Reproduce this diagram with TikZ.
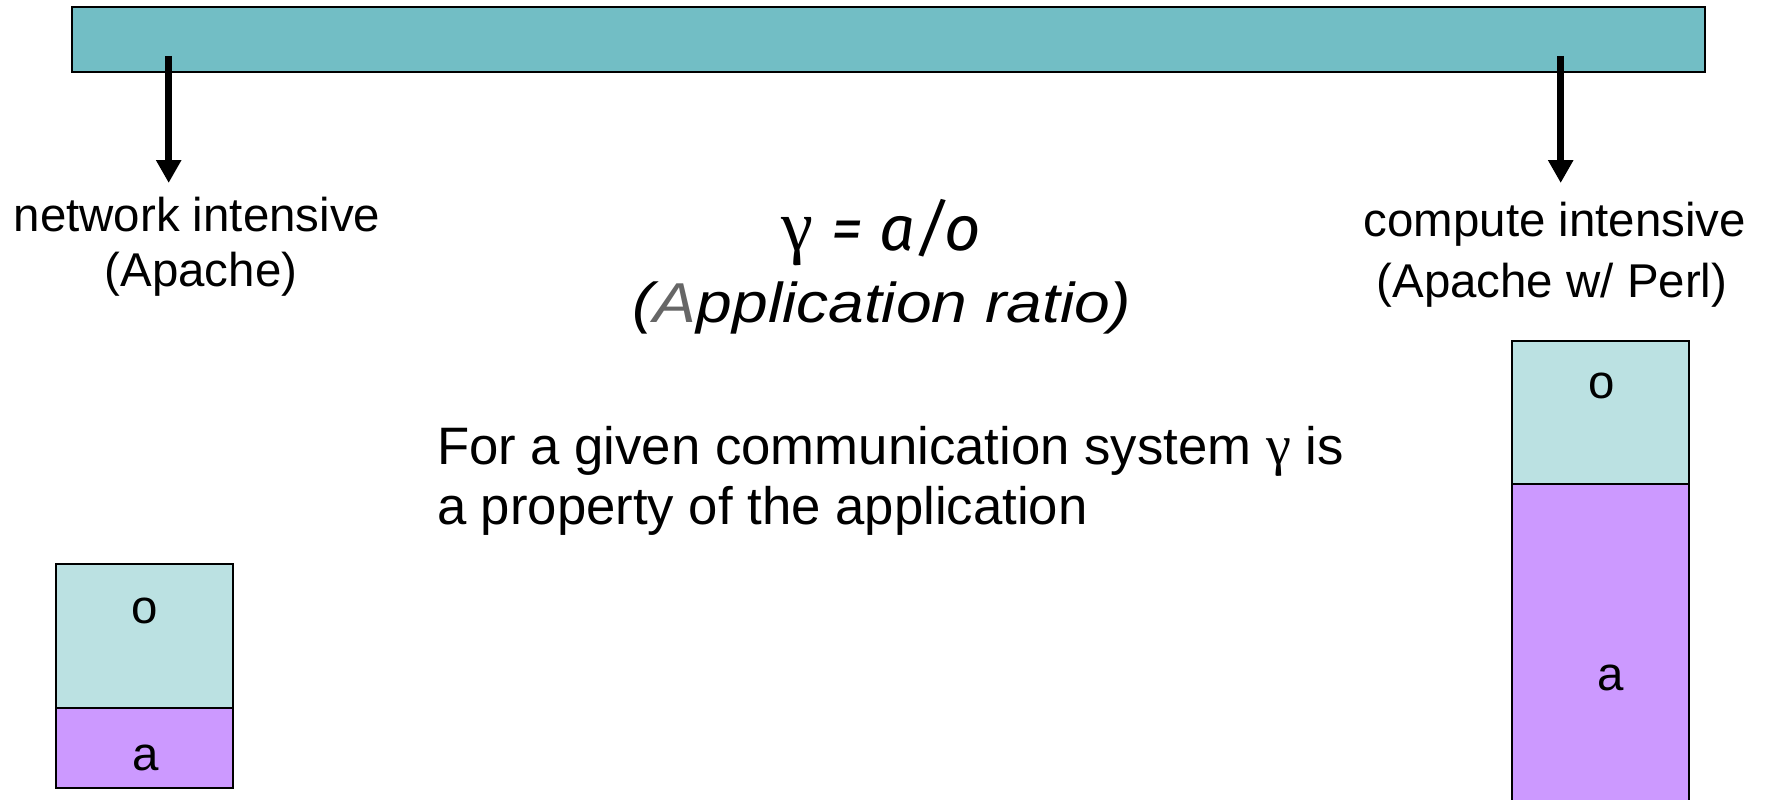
\documentclass[tikz,border=0pt]{standalone}
\usepackage{graphicx}
\usepackage{fontspec}
\setmainfont{Liberation Sans}
\newfontfamily\serifgreek{Liberation Serif}
\newfontfamily\formulafont{Fira Sans}
\usetikzlibrary{arrows.meta}
\definecolor{barteal}{HTML}{72BEC5}
\definecolor{lightcyan}{HTML}{BBE1E2}
\definecolor{lilac}{HTML}{CC99FF}
\definecolor{grayA}{HTML}{666666}
\begin{document}
\begin{tikzpicture}[x=0.02cm,y=-0.02cm,
  txt/.style={inner sep=0pt, outer sep=0pt},
  lbl/.style={txt, font=\fontsize{27}{32}\selectfont},
  body/.style={txt, font=\fontsize{30}{36}\selectfont},
  big/.style={txt, font=\fontsize{32}{38}\selectfont},
  formula/.style={txt, font=\fontsize{36}{42}\selectfont},
  boxline/.style={draw=black, line width=1.1pt},
  downarrow/.style={line width=4.3pt, -{Triangle[width=0.48cm,length=0.46cm]}}
]
\useasboundingbox (0,0) rectangle (1769,800);
\clip (0,0) rectangle (1769,800);

% top bar
\draw[boxline, fill=barteal] (72,7) rectangle (1705,72);
\coordinate (barL) at (168.7,56);
\coordinate (tipL) at (168.7,183);
\coordinate (barR) at (1560.7,56);
\coordinate (tipR) at (1560.7,183);
\draw[downarrow] (barL) -- (tipL);
\draw[downarrow] (barR) -- (tipR);

% left labels
\node[lbl, anchor=base] (netA) at (197,232) {network intensive};
\node[lbl, anchor=base] (netB) at (201,287) {(Apache)};

% right labels
\node[lbl, anchor=base] (compA) at (1555,237) {compute intensive};
\node[lbl, anchor=base] (compB) at (1552,298) {(Apache w/ Perl)};

% formula
\node[formula, anchor=base west] (gam) at (781,251) {{\fontsize{41}{46}\selectfont\serifgreek γ}\hspace{0.3em}{\formulafont\itshape = a/o}};
\node[big, anchor=base] (appr) at (882,323) {\scalebox{1.14}[1]{\itshape(\textcolor{grayA}{A}pplication ratio)}};

% body text
\node[body, anchor=base west] (bodyA) at (437,465) {For a given communication system {\fontsize{32}{36}\selectfont\serifgreek γ} is};
\node[body, anchor=base west] (bodyB) at (437,524) {a property of the application};

% left stacked boxes
\draw[boxline, fill=lightcyan] (56,564) rectangle (233,708);
\draw[boxline, fill=lilac] (56,708) rectangle (233,788);
\node[lbl, anchor=base] (lo) at (145,623) {o};
\node[lbl, anchor=base] (la) at (146,770) {a};

% right stacked boxes
\draw[boxline, fill=lightcyan] (1512,341) rectangle (1689,484);
\draw[boxline, fill=lilac] (1512,484) rectangle (1689,830);
\node[lbl, anchor=base] (ro) at (1602,399) {o};
\node[lbl, anchor=base] (ra) at (1611,690) {a};
\end{tikzpicture}
\end{document}
